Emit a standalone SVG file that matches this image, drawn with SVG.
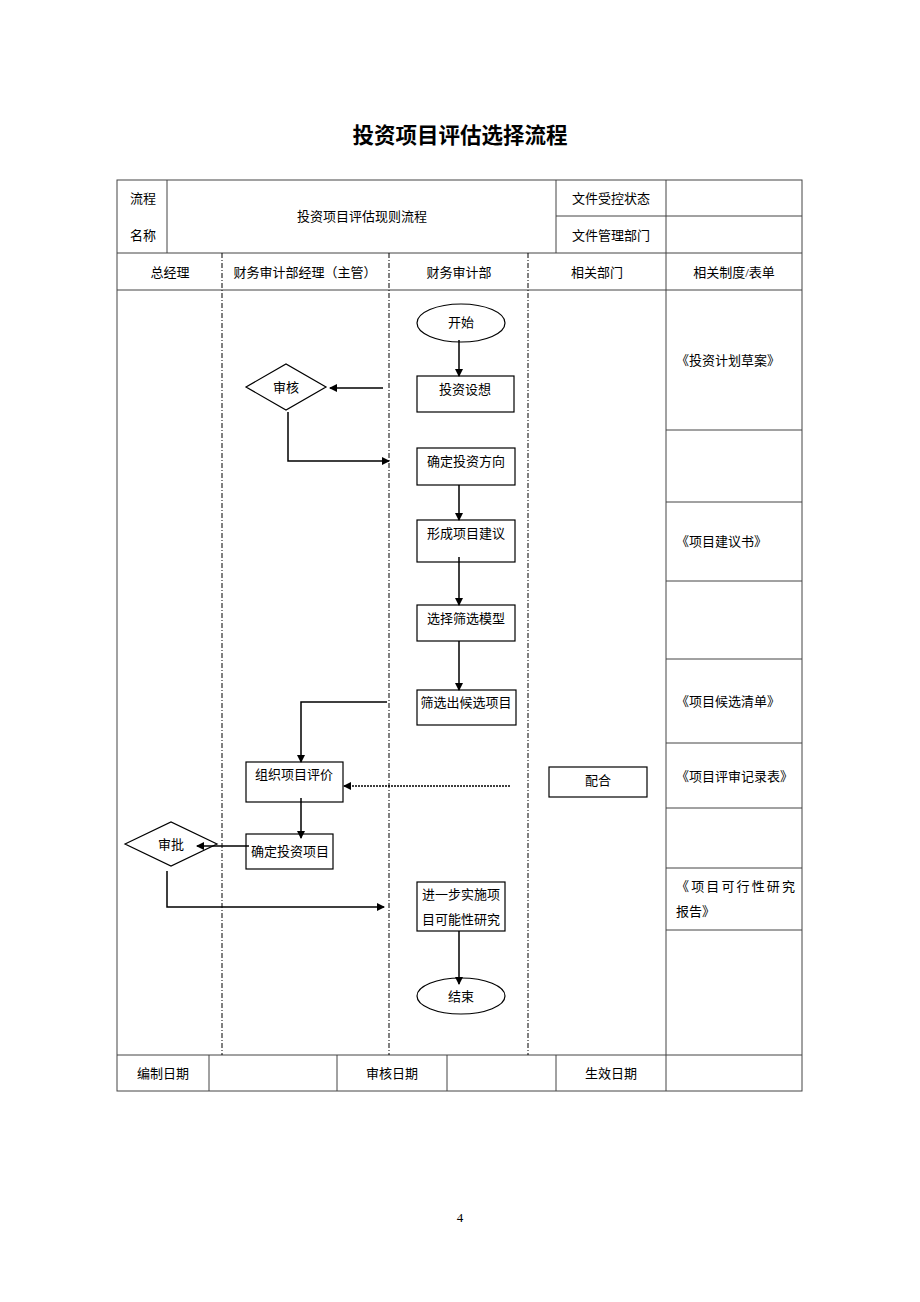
<svg xmlns="http://www.w3.org/2000/svg" width="920" height="1302" viewBox="0 0 920 1302">
<style>
text{font-family:"Liberation Serif","Noto Sans CJK SC",serif;font-size:13px;fill:#000}
.c{text-anchor:middle}
.t{stroke:#444;stroke-width:1;fill:none}
.d{stroke:#000;stroke-width:1;fill:none;stroke-dasharray:5,2,1,2}
.n{fill:#fff;stroke:#000;stroke-width:1.2}
.a{stroke:#000;stroke-width:1.5;fill:none;marker-end:url(#ah)}
.dot{stroke:#000;stroke-width:1.5;fill:none;stroke-dasharray:2,1;marker-end:url(#ah)}
</style>
<defs>
<marker id="ah" markerWidth="8" markerHeight="8" refX="7" refY="4" orient="auto" markerUnits="userSpaceOnUse">
<path d="M0,0 L8,4 L0,8 Z" fill="#000"/>
</marker>
</defs>
<rect width="920" height="1302" fill="#fff"/>
<text x="460" y="143" class="c" style="font-size:21.5px;font-weight:bold">投资项目评估选择流程</text>

<g id="table">
<rect x="117" y="180" width="685" height="911" class="t"/>
<line x1="117" y1="253" x2="802" y2="253" class="t"/>
<line x1="117" y1="290" x2="802" y2="290" class="t"/>
<line x1="117" y1="1055" x2="802" y2="1055" class="t"/>
<line x1="556" y1="216" x2="802" y2="216" class="t"/>
<line x1="167" y1="180" x2="167" y2="253" class="t"/>
<line x1="556" y1="180" x2="556" y2="253" class="t"/>
<line x1="666" y1="180" x2="666" y2="1091" class="t"/>
<line x1="209" y1="1055" x2="209" y2="1091" class="t"/>
<line x1="337" y1="1055" x2="337" y2="1091" class="t"/>
<line x1="447" y1="1055" x2="447" y2="1091" class="t"/>
<line x1="556" y1="1055" x2="556" y2="1091" class="t"/>
<line x1="666" y1="430" x2="802" y2="430" class="t"/>
<line x1="666" y1="502" x2="802" y2="502" class="t"/>
<line x1="666" y1="581" x2="802" y2="581" class="t"/>
<line x1="666" y1="659" x2="802" y2="659" class="t"/>
<line x1="666" y1="743" x2="802" y2="743" class="t"/>
<line x1="666" y1="808" x2="802" y2="808" class="t"/>
<line x1="666" y1="868" x2="802" y2="868" class="t"/>
<line x1="666" y1="930" x2="802" y2="930" class="t"/>
<line x1="222" y1="253" x2="222" y2="1055" class="d"/>
<line x1="389" y1="253" x2="389" y2="1055" class="d"/>
<line x1="528" y1="253" x2="528" y2="1055" class="d"/>
<text x="143" y="203" class="c">流程</text>
<text x="143" y="240" class="c">名称</text>
<text x="362" y="221" class="c">投资项目评估现则流程</text>
<text x="611" y="203" class="c">文件受控状态</text>
<text x="611" y="240" class="c">文件管理部门</text>
<text x="170" y="277" class="c">总经理</text>
<text x="305" y="277" class="c">财务审计部经理（主管）</text>
<text x="459" y="277" class="c">财务审计部</text>
<text x="597" y="277" class="c">相关部门</text>
<text x="734" y="277" class="c">相关制度/表单</text>
<text x="676" y="365">《投资计划草案》</text>
<text x="676" y="546">《项目建议书》</text>
<text x="676" y="706">《项目候选清单》</text>
<text x="676" y="781">《项目评审记录表》</text>
<text x="676" y="891" textLength="119" lengthAdjust="spacing">《项目可行性研究</text>
<text x="676" y="916">报告》</text>
<text x="163" y="1078" class="c">编制日期</text>
<text x="392" y="1078" class="c">审核日期</text>
<text x="611" y="1078" class="c">生效日期</text>
</g>

<g id="n-start"><ellipse cx="461" cy="323" rx="44" ry="19" class="n"/><text x="461" y="327" class="c">开始</text></g>
<g id="n-idea"><rect x="417" y="376" width="97" height="36" class="n"/><text x="465" y="394" class="c">投资设想</text></g>
<g id="n-review"><polygon points="246,387 286,364 326,387 286,410" class="n"/><text x="286" y="392" class="c">审核</text></g>
<g id="n-direction"><rect x="417" y="448" width="98" height="37" class="n"/><text x="466" y="466" class="c">确定投资方向</text></g>
<g id="n-proposal"><rect x="417" y="520" width="98" height="42" class="n"/><text x="466" y="538" class="c">形成项目建议</text></g>
<g id="n-model"><rect x="417" y="605" width="98" height="36" class="n"/><text x="466" y="623" class="c">选择筛选模型</text></g>
<g id="n-candidates"><rect x="417" y="690" width="99" height="35" class="n"/><text x="466" y="707" class="c">筛选出候选项目</text></g>
<g id="n-evaluate"><rect x="246" y="762" width="97" height="40" class="n"/><text x="294" y="779" class="c">组织项目评价</text></g>
<g id="n-cooperate"><rect x="549" y="767" width="98" height="30" class="n"/><text x="598" y="785" class="c">配合</text></g>
<g id="n-confirm"><rect x="246" y="834" width="87" height="35" class="n"/><text x="290" y="856" class="c">确定投资项目</text></g>
<g id="n-approve"><polygon points="125,844 171,822 217,844 171,866" class="n"/><text x="171" y="849" class="c">审批</text></g>
<g id="n-study"><rect x="417" y="882" width="88" height="49" class="n"/><text x="461" y="899" class="c">进一步实施项</text><text x="461" y="924" class="c">目可能性研究</text></g>
<g id="n-end"><ellipse cx="461" cy="996" rx="44" ry="18" class="n"/><text x="461" y="1001" class="c">结束</text></g>

<g id="connectors">
<line x1="459" y1="340" x2="459" y2="376" class="a"/>
<line x1="383" y1="388" x2="330" y2="388" class="a"/>
<polyline points="288,412 288,461 389,461" class="a"/>
<line x1="459" y1="485" x2="459" y2="520" class="a"/>
<line x1="459" y1="557" x2="459" y2="605" class="a"/>
<line x1="459" y1="641" x2="459" y2="690" class="a"/>
<polyline points="387,702 301,702 301,762" class="a"/>
<line x1="510" y1="786" x2="344" y2="786" class="dot"/>
<line x1="301" y1="798" x2="301" y2="838" class="a"/>
<line x1="249" y1="846" x2="197" y2="846" class="a"/>
<polyline points="167,871 167,907 384,907" class="a"/>
<line x1="459" y1="931" x2="459" y2="984" class="a"/>
</g>

<text x="460" y="1222" class="c">4</text>
</svg>
